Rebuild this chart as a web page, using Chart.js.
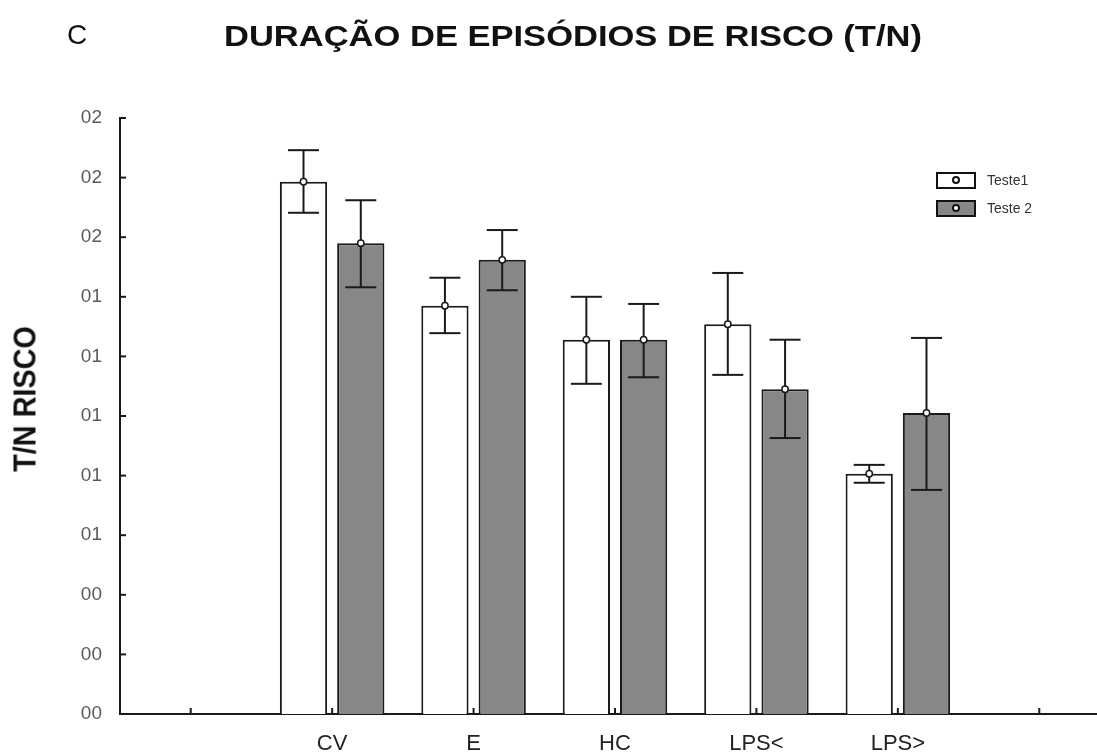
<!DOCTYPE html>
<html>
<head>
<meta charset="utf-8">
<script src="https://cdn.jsdelivr.net/npm/chart.js@4.4.1/dist/chart.umd.min.js"></script>
<style>
    html, body { margin: 0; padding: 0; background: #fff; overflow: hidden; }
    #wrap { position: relative; width: 1110px; height: 756px; }
    #panel { position: absolute; left: 67px; top: 19px; font: 28px 'Liberation Sans', Arial, sans-serif; color: #111; }
    #title { position: absolute; left: 224px; top: 20px; font: bold 29px 'Liberation Sans', Arial, sans-serif; color: #111;
             transform: scaleX(1.19); transform-origin: left center; white-space: nowrap; }
    #ytitle { position: absolute; left: 25px; top: 399px; font: bold 32px 'Liberation Sans', Arial, sans-serif; color: #111;
              white-space: nowrap; transform: translate(-50%, -50%) rotate(-90deg) scaleX(0.9); }
    #legend { position: absolute; left: 936px; top: 172px; }
    .leg-item { display: flex; align-items: center; height: 16px; margin-bottom: 12px; }
    .leg-box { width: 36px; height: 13px; border: 2px solid #111; display: flex; align-items: center; justify-content: center; margin-right: 11px; }
    .leg-dot { width: 4px; height: 4px; border-radius: 50%; background: #fff; border: 2px solid #111; }
    .leg-text { font: 14px 'Liberation Sans Narrow', 'Liberation Sans', Arial, sans-serif; color: #333; }
</style>
</head>
<body>
<div id="wrap">
    <div id="panel">C</div>
    <div id="title">DURAÇÃO DE EPISÓDIOS DE RISCO (T/N)</div>
    <div id="ytitle">T/N RISCO</div>
    <canvas id="chart" width="1110" height="756"></canvas>
    <div id="legend"></div>
</div>
<script>
const categories = ['', 'CV', 'E', 'HC', 'LPS<', 'LPS>', ''];
const yTickLabels = ['00', '00', '00', '01', '01', '01', '01', '01', '02', '02', '02'];

const teste1Mean = [null, 8.93, 6.85, 6.28, 6.54, 4.03, null];
const teste1Low  = [null, 8.41, 6.39, 5.54, 5.69, 3.88, null];
const teste1High = [null, 9.46, 7.32, 7.00, 7.40, 4.18, null];

const teste2Mean = [null, 7.90, 7.62, 6.28, 5.45, 5.05, null];
const teste2Low  = [null, 7.16, 7.11, 5.65, 4.63, 3.76, null];
const teste2High = [null, 8.62, 8.12, 6.88, 6.28, 6.31, null];

const ranges = [
    { low: teste1Low, high: teste1High },
    { low: teste2Low, high: teste2High }
];

// whiskers, mean markers and the small inward tick marks
const errorBars = {
    id: 'errorBars',
    afterDatasetsDraw(chart) {
        const ctx = chart.ctx;
        const x = chart.scales.x;
        const y = chart.scales.y;
        const line = (x1, y1, x2, y2) => { ctx.beginPath(); ctx.moveTo(x1, y1); ctx.lineTo(x2, y2); ctx.stroke(); };
        ctx.save();
        ctx.strokeStyle = '#1a1a1a';
        ctx.lineWidth = 2;

        y.ticks.forEach((t, i) => {
            const py = y.getPixelForTick(i);
            line(x.left, py, x.left + 6, py);
        });
        x.ticks.forEach((t, i) => {
            const px = x.getPixelForTick(i);
            line(px, y.bottom, px, y.bottom - 6);
        });

        ranges.forEach((r, di) => {
            const meta = chart.getDatasetMeta(di);
            meta.data.forEach((bar, i) => {
                if (r.high[i] == null) return;
                const top = y.getPixelForValue(r.high[i]);
                const bot = y.getPixelForValue(r.low[i]);
                const half = 15.5;
                ctx.lineWidth = 2;
                line(bar.x, top, bar.x, bot);
                line(bar.x - half, top, bar.x + half, top);
                line(bar.x - half, bot, bar.x + half, bot);
                ctx.beginPath();
                ctx.arc(bar.x, bar.y, 3.2, 0, Math.PI * 2);
                ctx.fillStyle = '#fff';
                ctx.fill();
                ctx.lineWidth = 1.5;
                ctx.stroke();
            });
        });
        ctx.restore();
    }
};

const ctx = document.getElementById('chart').getContext('2d');
const chart = new Chart(ctx, {
    type: 'bar',
    data: {
        labels: categories,
        datasets: [
            {
                label: 'Teste1',
                data: teste1Mean,
                backgroundColor: '#ffffff',
                borderColor: '#1a1a1a',
                borderWidth: 2,
                categoryPercentage: 0.81,
                barPercentage: 0.825
            },
            {
                label: 'Teste 2',
                data: teste2Mean,
                backgroundColor: '#878787',
                borderColor: '#1a1a1a',
                borderWidth: 2,
                categoryPercentage: 0.81,
                barPercentage: 0.825
            }
        ]
    },
    options: {
        responsive: false,
        animation: false,
        layout: { padding: { top: 118, left: 0, right: 0, bottom: 0 } },
        plugins: {
            legend: { display: false },
            tooltip: { enabled: false }
        },
        scales: {
            x: {
                type: 'category',
                offset: true,
                grid: { display: false, drawTicks: false },
                border: { color: '#1a1a1a', width: 2 },
                ticks: {
                    padding: 17,
                    maxRotation: 0,
                    color: '#222',
                    font: { family: "'Liberation Sans', Arial", size: 22 }
                },
                afterFit: (scale) => { scale.height = 42; }
            },
            y: {
                min: 0,
                max: 10,
                grid: { display: false, drawTicks: false },
                border: { color: '#1a1a1a', width: 2 },
                ticks: {
                    stepSize: 1,
                    padding: 18,
                    color: '#5a5a5a',
                    font: { family: "'Liberation Sans', Arial", size: 19 },
                    callback: (v) => yTickLabels[v]
                },
                afterFit: (scale) => { scale.width = 120; }
            }
        }
    },
    plugins: [errorBars]
});

// HTML legend built from the datasets
const legend = document.getElementById('legend');
legend.innerHTML = chart.data.datasets.map(ds => `
    <div class="leg-item">
        <div class="leg-box" style="background:${ds.backgroundColor}"><div class="leg-dot"></div></div>
        <span class="leg-text">${ds.label}</span>
    </div>`).join('');
</script>
</body>
</html>
